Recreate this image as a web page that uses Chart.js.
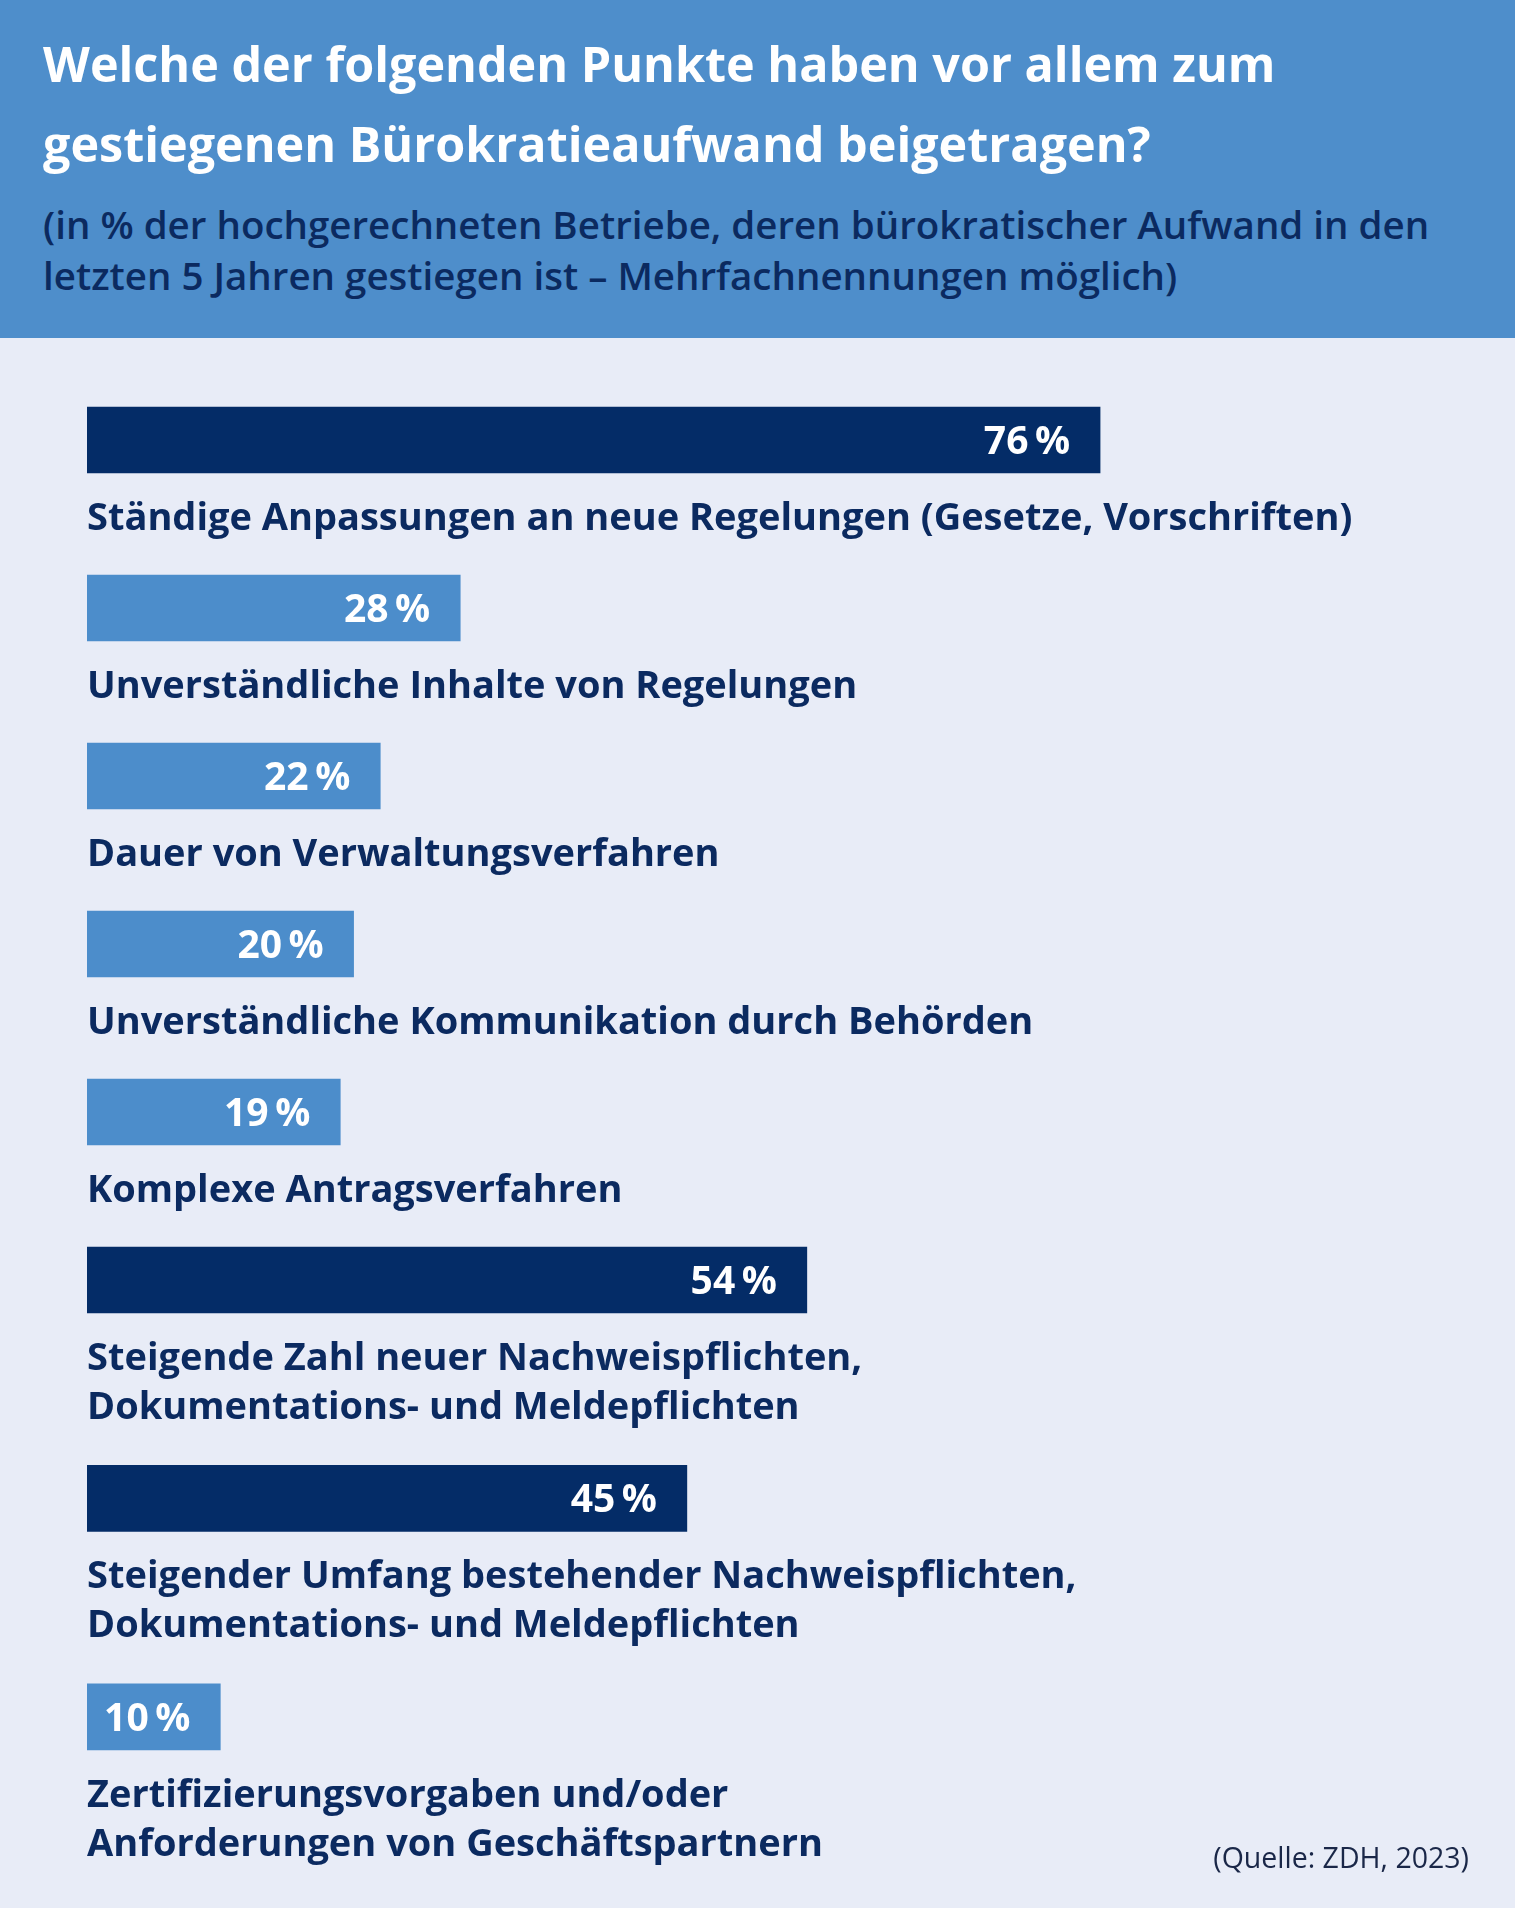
<!DOCTYPE html>
<html lang="de">
<head>
<meta charset="utf-8">
<title>Bürokratieaufwand</title>
<script src="https://cdn.jsdelivr.net/npm/chart.js@4.4.1/dist/chart.umd.min.js"></script>
<style>
  body { margin: 0; background: #fff; font-family: "Open Sans", "Noto Sans", sans-serif; }
  #wrap { position: relative; width: 1515px; height: 1908px; background: #E8ECF7; }
  #head { position: absolute; left: 0; top: 0; width: 1515px; height: 338px; background: #4E8ECB; }
  #title { position: absolute; left: 43px; top: 23px; font-size: 48.5px; line-height: 80px; font-weight: 700; color: #fff; white-space: nowrap; }
  #sub { position: absolute; left: 43px; top: 199px; font-size: 38.5px; line-height: 51px; font-weight: 600; color: #0B2A60; white-space: nowrap; }
  #chart { position: absolute; left: 0; top: 338px; }
  #source { position: absolute; right: 46px; top: 1842px; font-size: 28.5px; line-height: 30px; color: #1A2748; }
</style>
</head>
<body>
<div id="wrap">
  <div id="head">
    <div id="title">Welche der folgenden Punkte haben vor allem zum<br>gestiegenen Bürokratieaufwand beigetragen?</div>
    <div id="sub">(in % der hochgerechneten Betriebe, deren bürokratischer Aufwand in den<br>letzten 5 Jahren gestiegen ist – Mehrfachnennungen möglich)</div>
  </div>
  <canvas id="chart" width="1515" height="1570"></canvas>
  <div id="source">(Quelle: ZDH, 2023)</div>
</div>
<script>
// Antworten (mehrzeilige Beschriftungen als Array von Zeilen)
const categories = [
  ["Ständige Anpassungen an neue Regelungen (Gesetze, Vorschriften)"],
  ["Unverständliche Inhalte von Regelungen"],
  ["Dauer von Verwaltungsverfahren"],
  ["Unverständliche Kommunikation durch Behörden"],
  ["Komplexe Antragsverfahren"],
  ["Steigende Zahl neuer Nachweispflichten,", "Dokumentations- und Meldepflichten"],
  ["Steigender Umfang bestehender Nachweispflichten,", "Dokumentations- und Meldepflichten"],
  ["Zertifizierungsvorgaben und/oder", "Anforderungen von Geschäftspartnern"]
];
const shares = [76, 28, 22, 20, 19, 54, 45, 10];

const DARK = "#042C67";
const LIGHT = "#4C8DCB";
const barColors = [DARK, LIGHT, LIGHT, LIGHT, LIGHT, DARK, DARK, LIGHT];
const TEXT = "#0B2A60";

// jede zusätzliche Textzeile schiebt den nächsten Balken etwas nach unten
const EXTRA_LINE = 0.3;
let slot = 0;
const slots = categories.map((lines) => {
  const p = slot;
  slot += 1 + (lines.length - 1) * EXTRA_LINE;
  return p;
});

const labelPlugin = {
  id: "barLabels",
  afterDatasetsDraw(chart) {
    const ctx = chart.ctx;
    const meta = chart.getDatasetMeta(0);
    ctx.save();
    meta.data.forEach((bar, i) => {
      // Wert im Balken
      ctx.fillStyle = "#fff";
      ctx.font = "700 39px 'Open Sans'";
      ctx.textAlign = "right";
      ctx.textBaseline = "alphabetic";
      ctx.fillText(shares[i] + "\u2009%", bar.x - 30, bar.y + 14);
      // Beschriftung unter dem Balken
      ctx.fillStyle = TEXT;
      ctx.font = "700 38px 'Open Sans'";
      ctx.textAlign = "left";
      categories[i].forEach((line, k) => {
        ctx.fillText(line, chart.chartArea.left, bar.y + 90 + k * 49);
      });
    });
    ctx.restore();
  }
};

function draw() {
  new Chart(document.getElementById("chart"), {
    type: "bar",
    data: {
      datasets: [{
        data: shares.map((v, i) => ({ x: v, y: slots[i] })),
        backgroundColor: barColors,
        borderWidth: 0,
        barThickness: 66
      }]
    },
    options: {
      indexAxis: "y",
      responsive: false,
      animation: false,
      devicePixelRatio: 1,
      layout: { padding: { left: 87, right: 95, top: 18, bottom: 40 } },
      scales: {
        x: { type: "linear", min: 0, max: 100, display: false },
        y: { type: "linear", min: -0.5, max: 8.5, reverse: true, offset: false, display: false }
      },
      plugins: { legend: { display: false }, tooltip: { enabled: false } }
    },
    plugins: [labelPlugin]
  });
}

Promise.all([
  document.fonts.load("700 38px 'Open Sans'"),
  document.fonts.load("600 38px 'Open Sans'")
]).then(draw, draw);
</script>
</body>
</html>
